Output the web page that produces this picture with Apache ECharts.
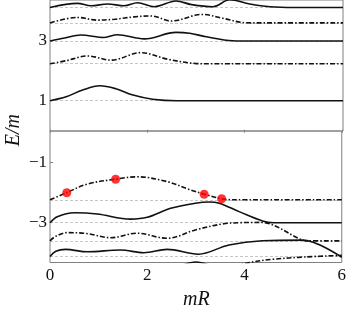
<!DOCTYPE html>
<html><head><meta charset="utf-8">
<script src="https://cdn.jsdelivr.net/npm/echarts@6/dist/echarts.min.js"></script>
<style>html,body{margin:0;padding:0;background:#fff}#c{width:349px;height:313px}</style>
</head><body><div id="c"></div>
<script>
// tick labels
const xTicks = [0, 2, 4, 6];
const upperTicks = [1, 3];
const lowerTicks = [-1, -3];
// asymptotic levels (dashed gray)
const upperLevels = [1, 2.236, 3, 3.606, 4.123];
const lowerLevels = [-2.236, -3, -3.606, -4.123];
// upper curves [mR, E/m]
const u1 = [[0,1.0],[0.33,1.13],[0.67,1.36],[1.02,1.5],[1.35,1.4],[1.7,1.19],[2.1,1.05],[2.6,1.0],[6,1.0]];
const u2 = [[0,2.236],[0.33,2.34],[0.77,2.5],[1.25,2.36],[1.86,2.61],[2.41,2.39],[2.96,2.25],[3.3,2.236],[6,2.236]];
const u3 = [[0,3.0],[0.3,3.1],[0.63,3.2],[1.11,3.12],[1.38,3.21],[1.93,3.07],[2.58,3.29],[2.86,3.26],[3.2,3.14],[3.74,3.01],[4.2,3.0],[6,3.0]];
const u4 = [[0,3.606],[0.56,3.79],[0.97,3.70],[1.32,3.73],[1.73,3.81],[2.07,3.84],[2.48,3.67],[2.99,3.87],[3.13,3.89],[3.54,3.76],[4.02,3.61],[4.5,3.606],[6,3.606]];
const u5 = [[0,4.123],[0.56,4.26],[0.84,4.18],[1.18,4.24],[1.52,4.18],[1.79,4.28],[2.14,4.15],[2.58,4.34],[2.9,4.22],[3.34,4.15],[3.68,4.38],[4.09,4.24],[4.5,4.15],[5.0,4.123],[6,4.123]];
// lower curves
const l1 = [[0,-2.236],[0.34,-2.0],[0.77,-1.71],[1.35,-1.55],[1.79,-1.47],[2.41,-1.63],[2.86,-1.89],[3.17,-2.05],[3.53,-2.2],[3.75,-2.236],[6,-2.236]];
const l2 = [[0,-3.0],[0.15,-2.8],[0.5,-2.67],[0.97,-2.71],[1.66,-2.88],[2.0,-2.82],[2.48,-2.52],[2.99,-2.35],[3.27,-2.31],[3.48,-2.35],[3.89,-2.63],[4.37,-2.94],[4.6,-3.0],[6,-3.0]];
const l3 = [[0,-3.606],[0.12,-3.45],[0.36,-3.33],[0.75,-3.36],[1.25,-3.5],[1.79,-3.35],[2.41,-3.52],[2.99,-3.24],[3.55,-3.04],[3.9,-3.0],[4.33,-2.99],[5.19,-3.58],[5.3,-3.606],[6,-3.606]];
const l4 = [[0,-4.123],[0.12,-3.95],[0.32,-3.89],[0.77,-3.97],[1.45,-3.91],[1.93,-4.0],[2.41,-3.89],[3.05,-4.05],[3.68,-3.74],[4.37,-3.6],[5.19,-3.58],[6,-4.15]];
const l5 = [[3.8,-4.45],[4.1,-4.33],[4.57,-4.22],[5.26,-4.14],[6,-4.09]];
const l6 = [[2.6,-4.5],[3.0,-4.31],[3.4,-4.5]];
// highlighted points
const redDots = [[0.345,-2.0],[1.35,-1.55],[3.17,-2.05],[3.53,-2.2]];

const serif = '"Liberation Serif","DejaVu Serif",serif';
const dashDot = [5, 2, 1.5, 2];
function curve(data, g, dash) {
  return {type:'line', xAxisIndex:g, yAxisIndex:g, data:data, smooth:0.35, showSymbol:false, symbol:'none',
    clip:true, z:5, lineStyle:{color:'#111', width:1.6, type: dash ? dashDot : 'solid'}, silent:true};
}
function levels(vals, g) {
  return {type:'line', xAxisIndex:g, yAxisIndex:g, data:[], z:2, silent:true,
    markLine:{silent:true, symbol:['none','none'], label:{show:false},
      lineStyle:{color:'#b8b8b8', width:0.8, type:[3,2]}, data: vals.map(v=>({yAxis:v}))}};
}
const fmt = v => String(v).replace('-', '\u2212');
const chart = echarts.init(document.getElementById('c'), null, {renderer:'canvas'});
chart.setOption({
  animation:false,
  grid:[
    {left:50, width:293, top:0, height:131, show:true, borderColor:'#808080', borderWidth:1},
    {left:50, width:293, top:131, height:131.5, show:true, borderColor:'#808080', borderWidth:1}
  ],
  xAxis:[
    {gridIndex:0, type:'value', min:0, max:6, interval:2, axisLine:{show:false}, axisTick:{show:false}, axisLabel:{show:false}, splitLine:{show:false}},
    {gridIndex:1, type:'value', min:0, max:6, interval:2, axisLine:{show:false},
      axisTick:{show:true, inside:true, length:3, lineStyle:{color:'#808080'}},
      axisLabel:{show:true, margin:5, fontFamily:serif, fontSize:17, color:'#111', customValues:xTicks},
      splitLine:{show:false}}
  ],
  yAxis:[
    {gridIndex:0, type:'value', min:-0.015, max:4.374, axisLine:{show:false},
      axisTick:{show:true, inside:true, length:3, customValues:upperTicks, lineStyle:{color:'#808080'}},
      axisLabel:{show:true, margin:3, fontFamily:serif, fontSize:17, color:'#111', customValues:upperTicks, formatter:fmt},
      splitLine:{show:false}},
    {gridIndex:1, type:'value', min:-4.326, max:0.057, axisLine:{show:false},
      axisTick:{show:true, inside:true, length:3, customValues:lowerTicks, lineStyle:{color:'#808080'}},
      axisLabel:{show:true, margin:3, fontFamily:serif, fontSize:17, color:'#111', customValues:lowerTicks, formatter:fmt},
      splitLine:{show:false}}
  ],
  graphic:[
    {type:'text', left:4, top:114, rotation:Math.PI/2, style:{text:'E/m', font:'italic 20px '+serif, fill:'#111'}},
    {type:'text', left:183, top:290, style:{text:'mR', font:'italic 20px '+serif, fill:'#111'}}
  ],
  series:[
    levels(upperLevels,0), levels(lowerLevels,1),
    curve(u1,0,false), curve(u2,0,true), curve(u3,0,false), curve(u4,0,true), curve(u5,0,false),
    curve(l1,1,true), curve(l2,1,false), curve(l3,1,true), curve(l4,1,false), curve(l5,1,true), curve(l6,1,false),
    {type:'scatter', xAxisIndex:1, yAxisIndex:1, data:redDots, symbolSize:9, z:10, silent:true, itemStyle:{color:'#ff0000'}}
  ]
});
</script></body></html>
